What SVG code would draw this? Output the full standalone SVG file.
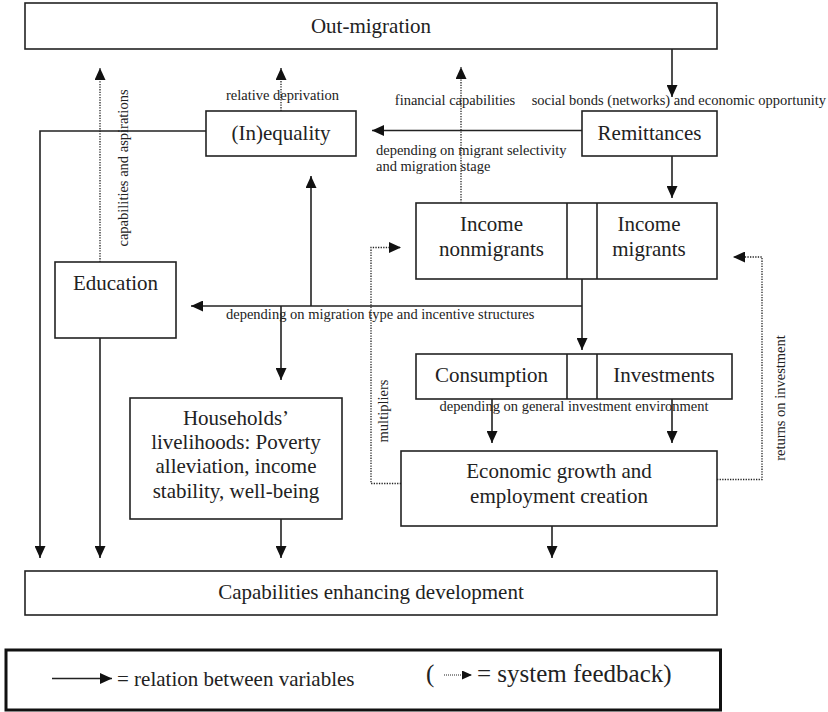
<svg xmlns="http://www.w3.org/2000/svg" width="828" height="712" viewBox="0 0 828 712">
<style>
.box{fill:#fff;stroke:#222;stroke-width:1.6}
.t{font-family:"Liberation Serif","Times New Roman",serif;font-size:21px;fill:#222;text-anchor:middle}
.lg{font-family:"Liberation Serif","Times New Roman",serif;font-size:21px;fill:#222;text-anchor:start}
.lg2{font-family:"Liberation Serif","Times New Roman",serif;font-size:25px;fill:#222;text-anchor:start}
.s{font-family:"Liberation Serif","Times New Roman",serif;font-size:14.5px;fill:#222}
.ln{fill:none;stroke:#222;stroke-width:1.6}
.dt{fill:none;stroke:#222;stroke-width:1.3;stroke-dasharray:1.3 1.3}
</style>
<defs>
<marker id="ah" markerUnits="userSpaceOnUse" markerWidth="12" markerHeight="11" refX="12" refY="5.5" orient="auto">
<path d="M0,0 L12,5.5 L0,11 z" fill="#111"/>
</marker>
<marker id="ahs" markerUnits="userSpaceOnUse" markerWidth="10" markerHeight="9" refX="10" refY="4.5" orient="auto">
<path d="M0,0 L10,4.5 L0,9 z" fill="#111"/>
</marker>
</defs>
<rect width="828" height="712" fill="#fff"/>

<g id="out-migration"><rect class="box" x="25" y="3" width="692" height="46"/><text class="t" x="371" y="33">Out-migration</text></g>
<g id="inequality"><rect class="box" x="206" y="111" width="150" height="45"/><text class="t" x="281" y="140">(In)equality</text></g>
<g id="remittances"><rect class="box" x="582" y="111" width="135" height="45"/><text class="t" x="649.5" y="140">Remittances</text></g>
<g id="income"><rect class="box" x="416" y="203" width="301" height="76"/><line class="ln" x1="567" y1="203" x2="567" y2="279"/><line class="ln" x1="597" y1="203" x2="597" y2="279"/>
<text class="t" x="491.5" y="231">Income</text><text class="t" x="491.5" y="256">nonmigrants</text>
<text class="t" x="649" y="231">Income</text><text class="t" x="649" y="256">migrants</text></g>
<g id="education"><rect class="box" x="55" y="262" width="121" height="76"/><text class="t" x="115.5" y="290">Education</text></g>
<g id="consumption-investments"><rect class="box" x="416" y="354" width="316" height="45"/><line class="ln" x1="567" y1="354" x2="567" y2="399"/><line class="ln" x1="597" y1="354" x2="597" y2="399"/>
<text class="t" x="491.5" y="382">Consumption</text><text class="t" x="664" y="382">Investments</text></g>
<g id="households"><rect class="box" x="130" y="398" width="212" height="121"/>
<text class="t" x="236" y="425">Households’</text><text class="t" x="236" y="449">livelihoods: Poverty</text><text class="t" x="236" y="473">alleviation, income</text><text class="t" x="236" y="497.5">stability, well-being</text></g>
<g id="economic-growth"><rect class="box" x="401" y="451" width="316" height="75"/><text class="t" x="559" y="478">Economic growth and</text><text class="t" x="559" y="502.5">employment creation</text></g>
<g id="capabilities"><rect class="box" x="25" y="571" width="692" height="44"/><text class="t" x="371" y="599">Capabilities enhancing development</text></g>

<g id="connectors">
<line class="ln" x1="672" y1="49" x2="672" y2="97" marker-end="url(#ah)"/>
<line class="ln" x1="672" y1="156" x2="672" y2="198" marker-end="url(#ah)"/>
<line class="ln" x1="582" y1="130.5" x2="372" y2="130.5" marker-end="url(#ah)"/>
<polyline class="ln" points="206,131 40,131 40,558" marker-end="url(#ah)"/>
<line class="ln" x1="100" y1="338" x2="100" y2="558" marker-end="url(#ah)"/>
<line class="ln" x1="582" y1="279" x2="582" y2="350" marker-end="url(#ah)"/>
<line class="ln" x1="582" y1="306" x2="191" y2="306" marker-end="url(#ah)"/>
<line class="ln" x1="311" y1="306" x2="311" y2="176" marker-end="url(#ah)"/>
<line class="ln" x1="281" y1="306" x2="281" y2="380" marker-end="url(#ah)"/>
<line class="ln" x1="492" y1="399" x2="492" y2="443" marker-end="url(#ah)"/>
<line class="ln" x1="672" y1="399" x2="672" y2="443" marker-end="url(#ah)"/>
<line class="ln" x1="552" y1="526" x2="552" y2="558" marker-end="url(#ah)"/>
<line class="ln" x1="281" y1="519" x2="281" y2="558" marker-end="url(#ah)"/>
<line class="dt" x1="100" y1="262" x2="100" y2="68" marker-end="url(#ah)"/>
<line class="dt" x1="281" y1="111" x2="281" y2="68" marker-end="url(#ah)"/>
<line class="dt" x1="461" y1="203" x2="461" y2="67" marker-end="url(#ah)"/>
<polyline class="dt" points="401,483.5 371,483.5 371,247.5 401,247.5" marker-end="url(#ah)"/>
<polyline class="dt" points="717,479.5 762,479.5 762,257 733,257" marker-end="url(#ah)"/>
</g>

<g id="labels">
<text class="s" x="282.5" y="100" text-anchor="middle">relative deprivation</text>
<text class="s" x="455" y="105" text-anchor="middle">financial capabilities</text>
<text class="s" x="826" y="105" text-anchor="end">social bonds (networks) and economic opportunity</text>
<text class="s" x="376" y="155">depending on migrant selectivity</text>
<text class="s" x="376" y="170.5">and migration stage</text>
<text class="s" x="226" y="319">depending on migration type and incentive structures</text>
<text class="s" x="574" y="411" text-anchor="middle">depending on general investment environment</text>
<text class="s" transform="translate(128,168) rotate(-90)" text-anchor="middle">capabilities and aspirations</text>
<text class="s" transform="translate(388,411) rotate(-90)" text-anchor="middle">multipliers</text>
<text class="s" transform="translate(785,398) rotate(-90)" text-anchor="middle">returns on investment</text>
</g>

<g id="legend">
<rect x="6" y="650" width="714.5" height="60" fill="#fff" stroke="#111" stroke-width="3"/>
<line class="ln" x1="52" y1="678.5" x2="112" y2="678.5" marker-end="url(#ah)"/>
<text class="lg" x="117" y="685.5">= relation between variables</text>
<text class="lg2" x="426" y="681.5">(</text>
<line x1="444" y1="675" x2="472" y2="675" stroke="#222" stroke-width="1" stroke-dasharray="1 1" marker-end="url(#ahs)"/>
<text class="lg2" x="477" y="681.5">= system feedback)</text>
</g>
</svg>
